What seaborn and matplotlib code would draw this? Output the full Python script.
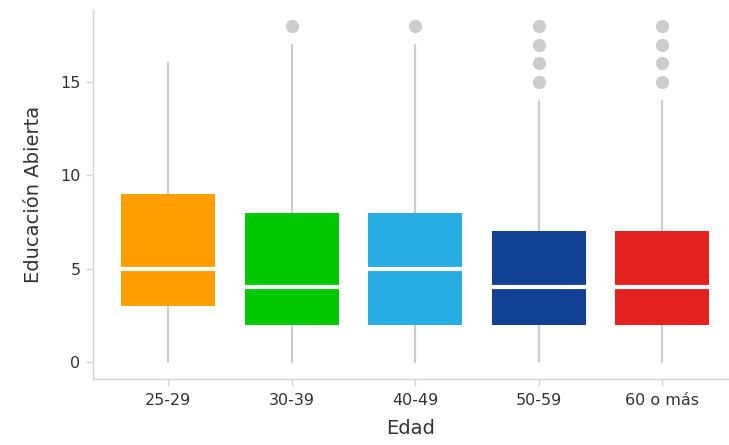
import numpy as np
import pandas as pd
import seaborn as sns
import matplotlib.pyplot as plt

# age groups and box statistics
edad = ['25-29', '30-39', '40-49', '50-59', '60 o más']
q1 = [3, 2, 2, 2, 2]
mediana = [5, 4, 5, 4, 4]
q3 = [9, 8, 8, 7, 7]
bigote_inf = [0, 0, 0, 0, 0]
bigote_sup = [16, 17, 17, 14, 14]
atipicos = [[], [18], [18], [15, 16, 17, 18], [15, 16, 17, 18]]
colores = ['#FF9E00', '#00C800', '#27ACE3', '#124194', '#E3221F']

sns.set_theme(style='white')
plt.rcParams['font.family'] = ['DejaVu Sans']

stats = pd.DataFrame({'label': edad, 'q1': q1, 'med': mediana, 'q3': q3,
                      'whislo': bigote_inf, 'whishi': bigote_sup,
                      'fliers': atipicos})
stats['fliers'] = stats['fliers'].apply(np.array)

fig = plt.figure(figsize=(7.29, 4.45), dpi=100)
ax = fig.add_axes([93 / 729, 66 / 445, 636 / 729, 369 / 445])

bp = ax.bxp(stats.to_dict('records'), positions=range(len(edad)), widths=0.76,
            patch_artist=True, showcaps=False,
            boxprops=dict(linewidth=0),
            whiskerprops=dict(color='#cccccc', linewidth=1.6),
            medianprops=dict(color='white', linewidth=3),
            flierprops=dict(marker='o', markerfacecolor='#cccccc',
                            markeredgecolor='none', markersize=9.5))
for caja, c in zip(bp['boxes'], colores):
    caja.set_facecolor(c)
    caja.set_zorder(3)
for m in bp['medians']:
    m.set_zorder(4)
for w in bp['whiskers']:
    w.set_zorder(2)

ax.set_xlim(-0.607, 4.54)
ax.set_ylim(-0.9, 18.85)
ax.set_yticks([0, 5, 10, 15])
ax.set_xticks(range(len(edad)))
ax.set_xticklabels(edad)

sns.despine(ax=ax, top=True, right=True)
for s in ['left', 'bottom']:
    ax.spines[s].set_color('#d4d4d4')
    ax.spines[s].set_linewidth(1)
ax.tick_params(axis='both', bottom=True, left=True, length=5, width=1,
               color='#d4d4d4', labelsize=11.5, labelcolor='#333333', pad=4)
ax.tick_params(axis='x', pad=5)

ax.set_xlabel('Edad', fontsize=14, color='#333333', labelpad=8)
ax.set_ylabel('Educación Abierta', fontsize=14, color='#333333', labelpad=12)

fig.savefig('out.png', dpi=100)
